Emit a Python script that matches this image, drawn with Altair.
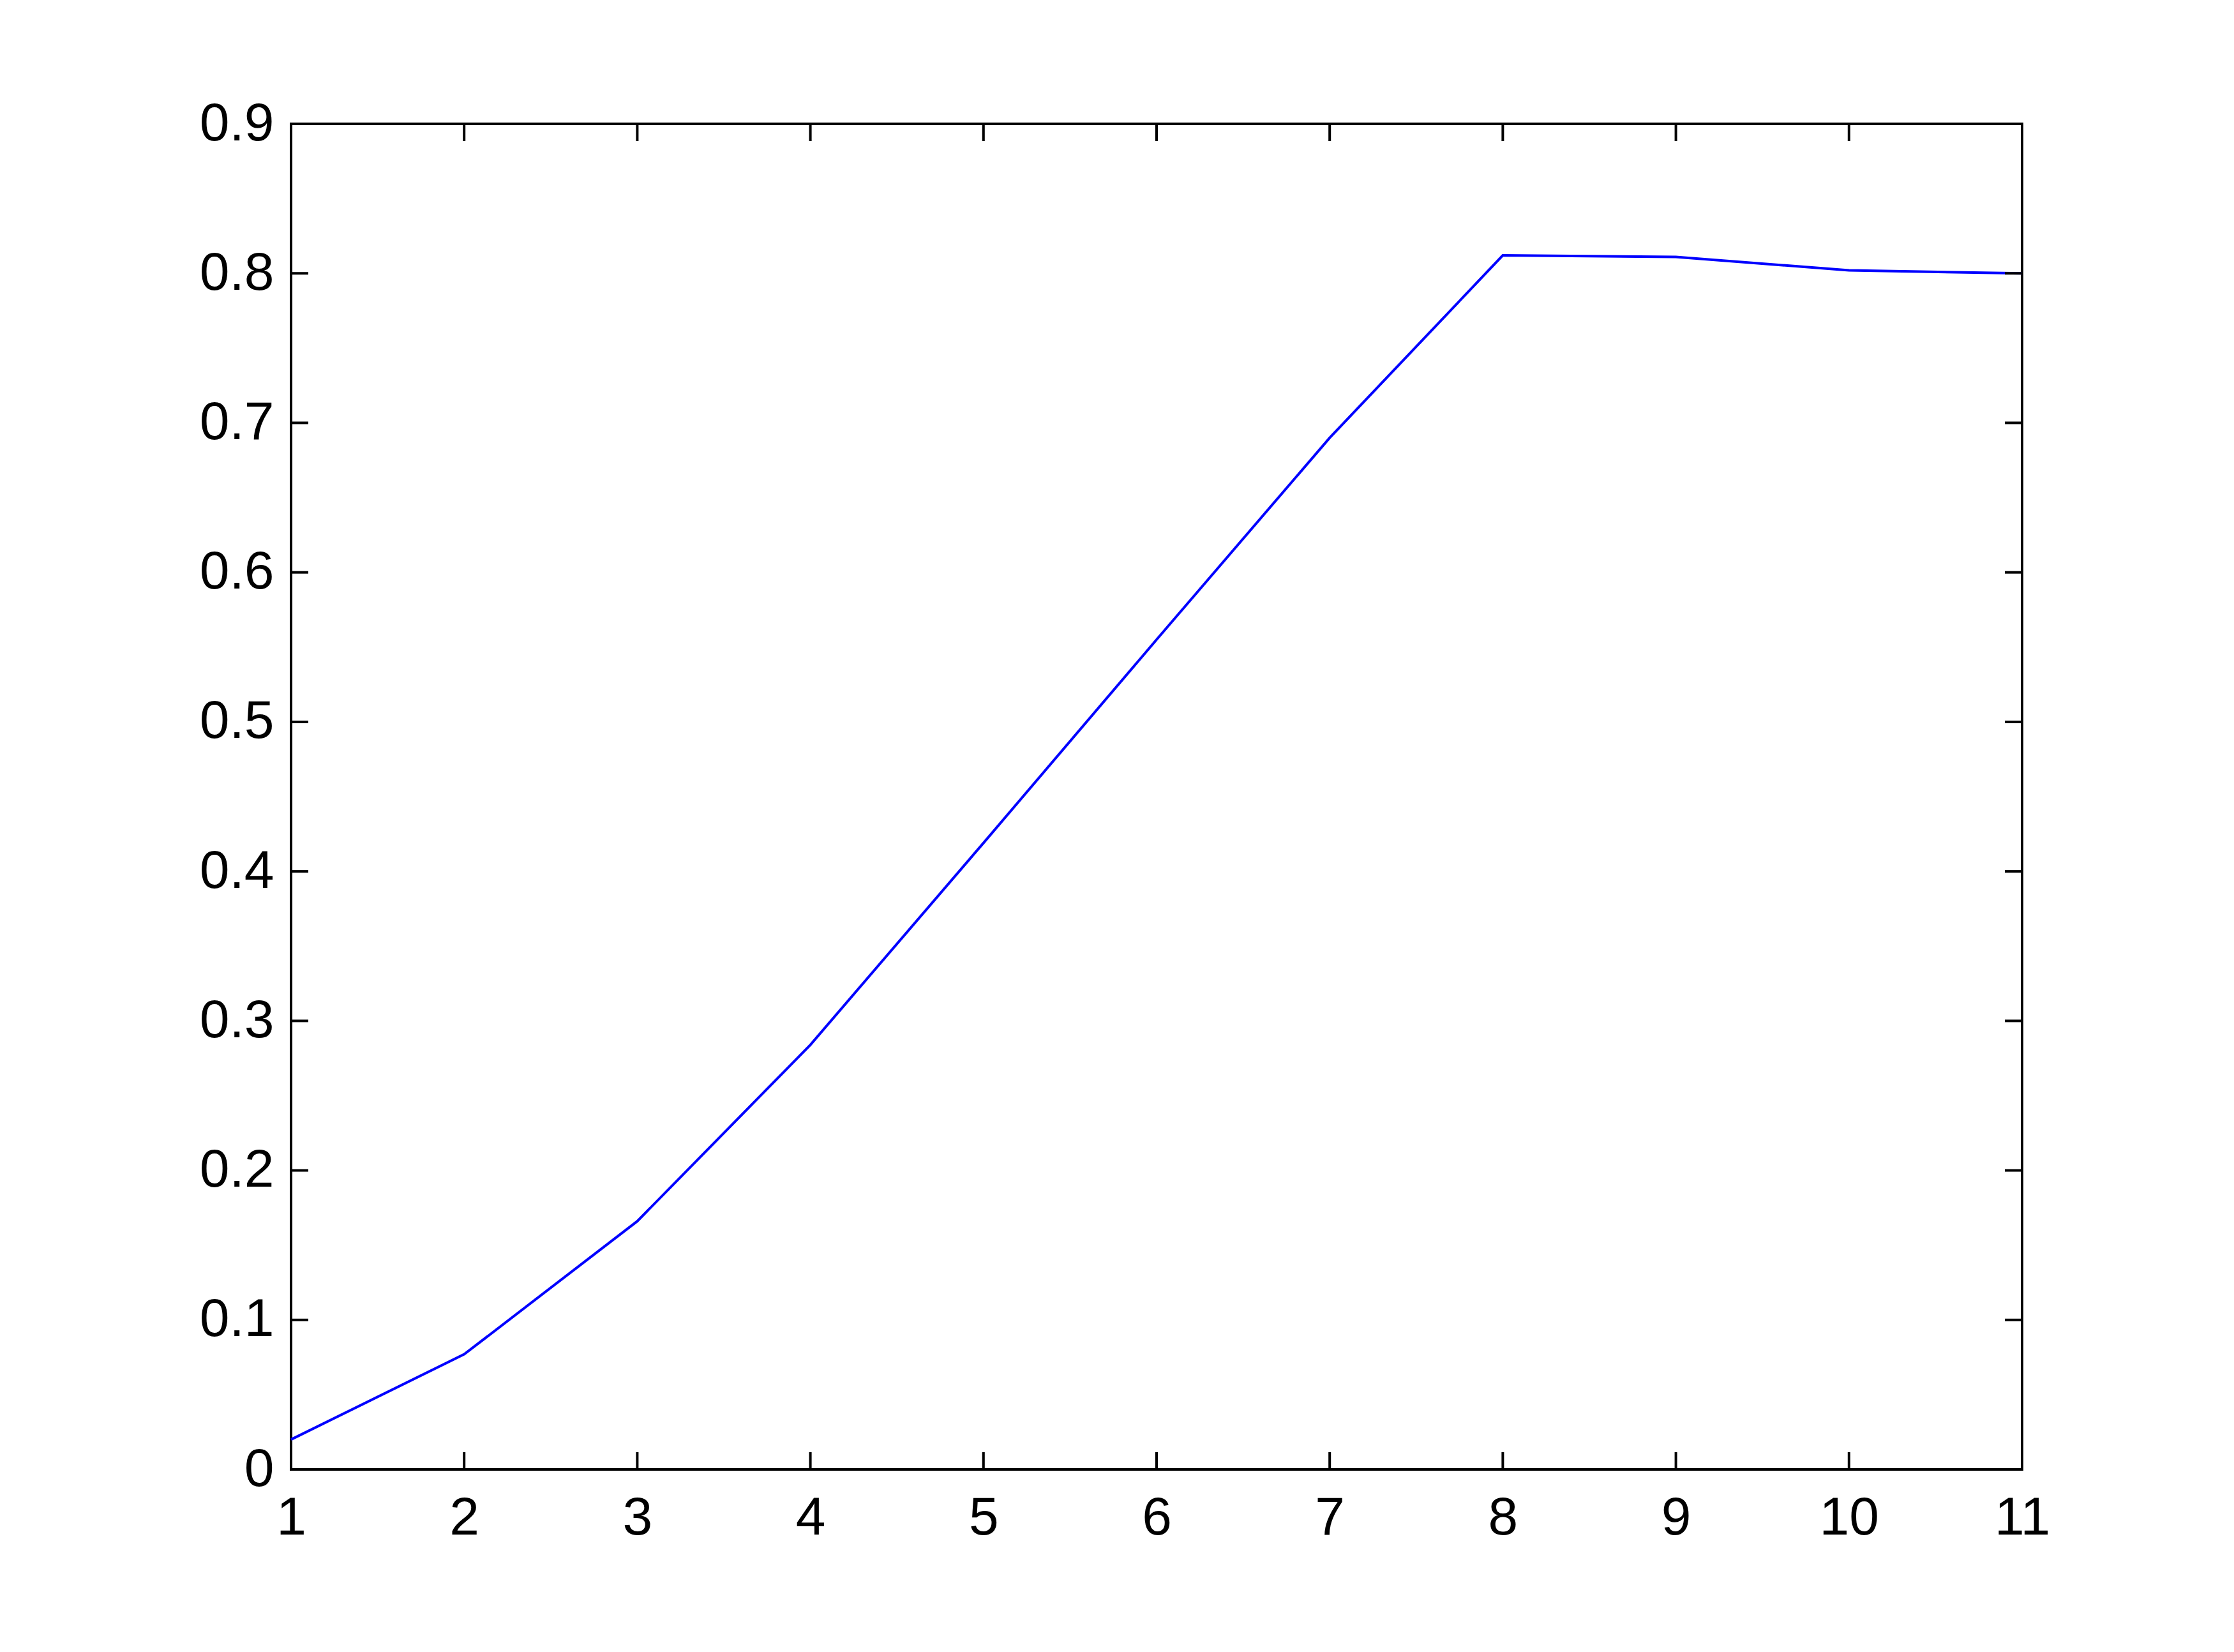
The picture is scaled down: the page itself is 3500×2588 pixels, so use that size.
import altair as alt
import pandas as pd

# Data
x_vals = [1, 2, 3, 4, 5, 6, 7, 8, 9, 10, 11]
y_vals = [0.020, 0.077, 0.166, 0.284, 0.419, 0.555, 0.690, 0.812, 0.811, 0.802, 0.800]

x_ticks = [1, 2, 3, 4, 5, 6, 7, 8, 9, 10, 11]
y_ticks = [0.0, 0.1, 0.2, 0.3, 0.4, 0.5, 0.6, 0.7, 0.8, 0.9]

W, H = 2712, 2108
TICK = 27
FONT = "Liberation Sans"
FS = 84

df = pd.DataFrame({"x": x_vals, "y": y_vals})
xt = pd.DataFrame({"x": x_ticks})
yt = pd.DataFrame({"y": y_ticks})

xscale = alt.Scale(domain=[1, 11], nice=False, zero=False)
yscale = alt.Scale(domain=[0, 0.9], nice=False, zero=False)

xaxis = alt.Axis(values=x_ticks, ticks=False, domain=False, grid=False,
                 labelFont=FONT, labelFontSize=FS, labelColor="black",
                 labelPadding=35, format="d", labelFlush=False)
yaxis = alt.Axis(values=y_ticks, ticks=False, domain=False, grid=False,
                 labelFont=FONT, labelFontSize=FS, labelColor="black",
                 labelPadding=27, format=".1~f", labelFlush=False)

X = alt.X("x:Q", scale=xscale, title=None, axis=xaxis)
Y = alt.Y("y:Q", scale=yscale, title=None, axis=yaxis)

line = alt.Chart(df).mark_line(color="#0000ff", strokeWidth=4).encode(x=X, y=Y)

tick_style = dict(color="black", strokeWidth=4)

xb = alt.Chart(xt).mark_rule(**tick_style).encode(
    x=X, y=alt.value(H), y2=alt.value(H - TICK))
xtp = alt.Chart(xt).mark_rule(**tick_style).encode(
    x=X, y=alt.value(0), y2=alt.value(TICK))
yl = alt.Chart(yt).mark_rule(**tick_style).encode(
    y=Y, x=alt.value(0), x2=alt.value(TICK))
yr = alt.Chart(yt).mark_rule(**tick_style).encode(
    y=Y, x=alt.value(W), x2=alt.value(W - TICK))

chart = alt.layer(line, xb, xtp, yl, yr).properties(
    width=W, height=H,
    autosize=alt.AutoSizeParams(type="none"),
    padding={"left": 448, "top": 186, "right": 300, "bottom": 250},
    background="white",
).configure_view(stroke="black", strokeWidth=4)

chart.save("out.html", embed_options={"renderer": "svg", "actions": False})
